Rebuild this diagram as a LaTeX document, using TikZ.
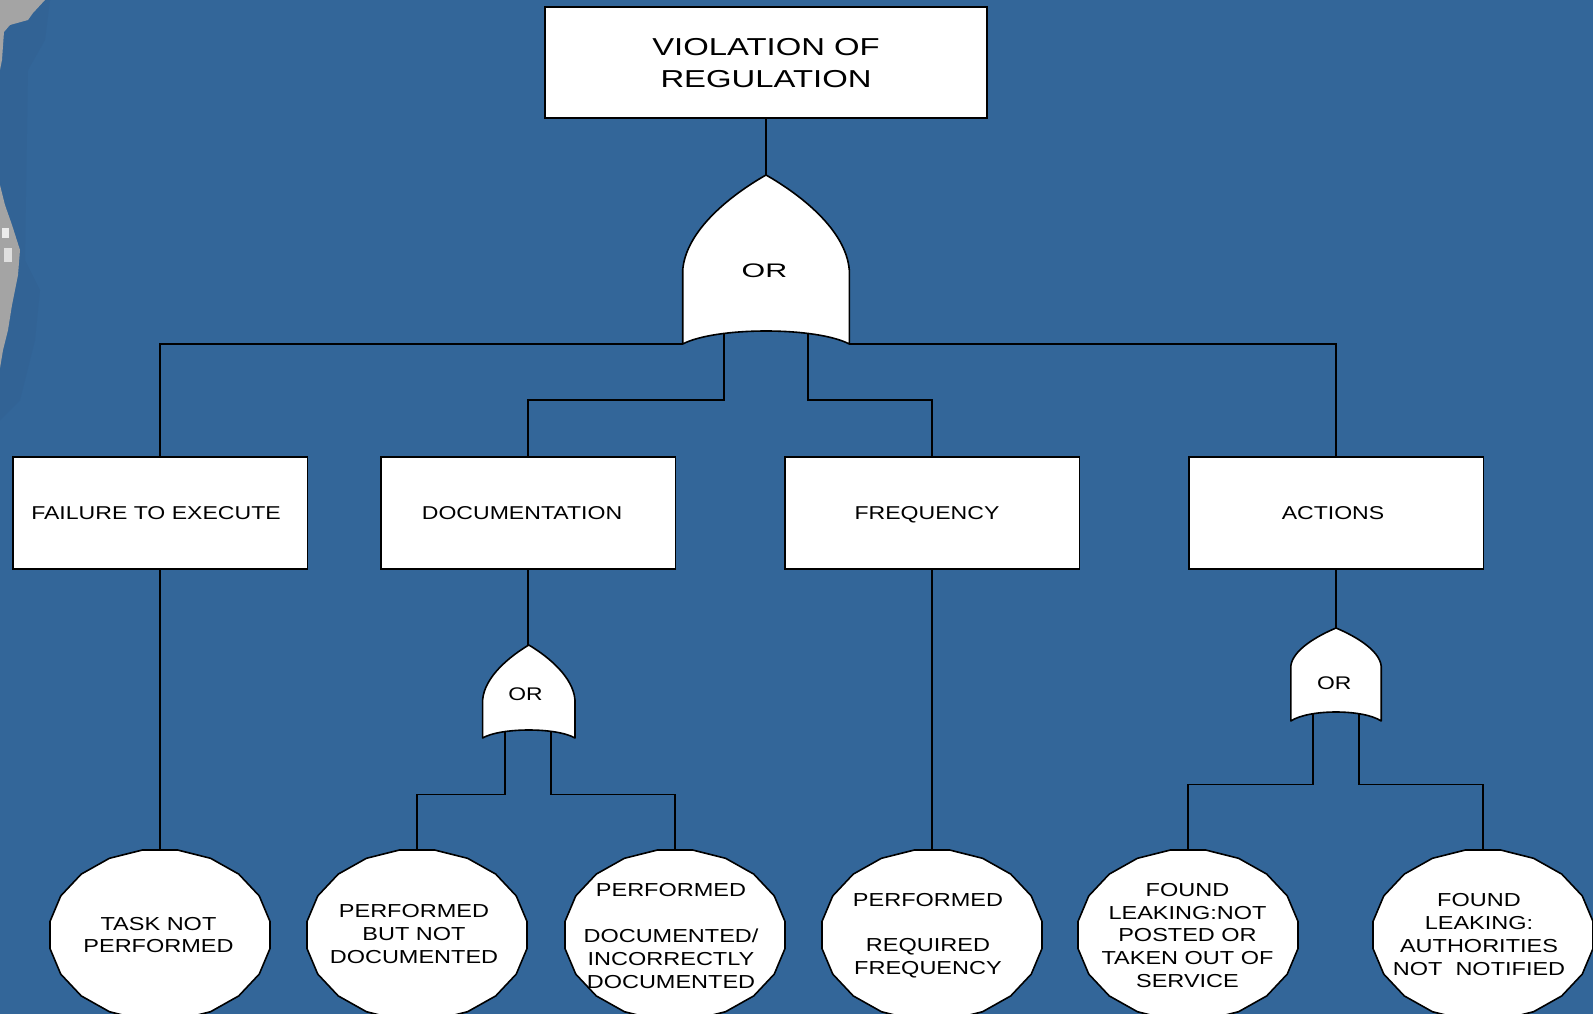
\documentclass[tikz,border=0pt]{standalone}
\usepackage{fontspec}
\setmainfont{Liberation Sans}
\newfontfamily\topfont[FakeStretch=1.34]{Liberation Sans}
\newfontfamily\boxfont[FakeStretch=1.24]{Liberation Sans}
\newfontfamily\leaffont[FakeStretch=1.25]{Liberation Sans}
\newfontfamily\bigorfont[FakeStretch=1.55]{Liberation Sans}
\usetikzlibrary{shapes.geometric}
\definecolor{bgblue}{RGB}{51,102,153}
\definecolor{bgdark}{RGB}{50,99,149}
\definecolor{edgegray}{RGB}{164,164,164}
% OR gate body: centre x, apex y, half width, shoulder depth, corner depth, bottom-centre depth
\newcommand\gateshape[6]{%
  \draw[gatebody] (#1,#2)
    .. controls ({#1-0.42*#3},{#2+0.21*#4}) and ({#1-0.96*#3},{#2+0.58*#4}) .. ({#1-#3},{#2+#4})
    -- ({#1-#3},{#2+#5})
    .. controls ({#1-0.6*#3},{#2+(#6-0.25*#5)/0.75}) and ({#1+0.6*#3},{#2+(#6-0.25*#5)/0.75}) .. ({#1+#3},{#2+#5})
    -- ({#1+#3},{#2+#4})
    .. controls ({#1+0.96*#3},{#2+0.58*#4}) and ({#1+0.42*#3},{#2+0.21*#4}) .. cycle;}
% faceted (20-gon) outline of a basic event round a centre
\newcommand\leafpoly[2]{%
  \draw[leafbody] plot[samples=21,domain=9:369,variable=\t]
    ({#1+111.4*cos(\t)},{#2+86.1*sin(\t)}) -- cycle;}
\begin{document}
\begin{tikzpicture}[x=1pt,y=-1pt,line width=1.6pt,
  box/.style={draw=black,fill=white,minimum width=294.6pt,minimum height=112pt,inner sep=0pt,
    text depth=0pt,font=\boxfont\fontsize{18.6}{22}\selectfont},
  leaf/.style={ellipse,minimum width=220pt,minimum height=170pt,inner sep=0pt},
  leafbody/.style={draw=black,fill=white,line join=round},
  lbl/.style={align=center,inner sep=0pt,font=\leaffont\fontsize{18.8}{22.8}\selectfont},
  gatebody/.style={draw=black,fill=white,line join=round},
  orlbl/.style={inner sep=0pt,font=\leaffont\fontsize{18.3}{20}\selectfont},
  wire/.style={draw=black,line width=1.6pt}]
\fill[bgblue] (0,0) rectangle (1593,1014);
\useasboundingbox (0,0) rectangle (1593,1014);
% screenshot artefacts at the left edge
\fill[bgdark] (0,0) -- (50,0) -- (45,40) -- (28,70) -- (25,260) -- (40,290) -- (35,340) -- (20,400) -- (0,420) -- cycle;
\fill[edgegray] (0,0) -- (45,0) -- (33,13) -- (28,20) -- (10,25) -- (4,32) -- (2,60) -- (0,70) -- cycle;
\fill[edgegray] (0,185) -- (5,205) -- (12,225) -- (20,250) -- (18,275) -- (12,305) -- (8,330) -- (3,350) -- (0,368) -- cycle;
\fill[white!85!gray] (2,228) rectangle (9,238);
\fill[white!75!gray] (4,248) rectangle (12,262);

% top event
\node[box,minimum width=442pt,minimum height=111pt,align=center,
  font=\topfont\fontsize{24.5}{32}\selectfont] (top) at (766,62.5) {VIOLATION OF\\REGULATION};
% intermediate events
\node[box] (b1) at (160,513) {FAILURE TO EXECUTE\hspace*{8pt}};
\node[box] (b2) at (528,513) {DOCUMENTATION\hspace*{12pt}};
\node[box] (b3) at (932,513) {FREQUENCY\hspace*{10pt}};
\node[box] (b4) at (1336,513) {ACTIONS\hspace*{6pt}};
% basic events (anchors; faceted outlines drawn below)
\node[leaf] (e1) at (160,935) {};
\node[leaf] (e2) at (417,935) {};
\node[leaf] (e3) at (675,935) {};
\node[leaf] (e4) at (932,935) {};
\node[leaf] (e5) at (1188,935) {};
\node[leaf] (e6) at (1483,935) {};

% gate anchor points
\coordinate (g1) at (766,175);
\coordinate (g1L) at (682.7,344);
\coordinate (g1R) at (849.3,344);
\coordinate (g1a) at (724,330);
\coordinate (g1b) at (808,330);
\coordinate (lev1) at (0,400);
\coordinate (g2) at (528,645);
\coordinate (g2a) at (505,725);
\coordinate (g2b) at (551,725);
\coordinate (lev2) at (0,794.5);
\coordinate (g3) at (1336,628);
\coordinate (g3a) at (1313,708);
\coordinate (g3b) at (1359,708);
\coordinate (lev3) at (0,784.5);

% connectors
\draw[wire] (top.south) -- (g1);
\draw[wire] (g1L) -| (b1.north);
\draw[wire] (g1R) -| (b4.north);
\draw[wire] (g1a) |- (lev1 -| b2.north) -- (b2.north);
\draw[wire] (g1b) |- (lev1 -| b3.north) -- (b3.north);
\draw[wire] (b1.south) -- (e1.north);
\draw[wire] (b2.south) -- (g2);
\draw[wire] (g2a) |- (lev2 -| e2.north) -- (e2.north);
\draw[wire] (g2b) |- (lev2 -| e3.north) -- (e3.north);
\draw[wire] (b3.south) -- (e4.north);
\draw[wire] (b4.south) -- (g3);
\draw[wire] (g3a) |- (lev3 -| e5.north) -- (e5.north);
\draw[wire] (g3b) |- (lev3 -| e6.north) -- (e6.north);

% basic event outlines and texts
\leafpoly{160}{935}
\leafpoly{417}{935}
\leafpoly{675}{935}
\leafpoly{932}{935}
\leafpoly{1188}{935}
\leafpoly{1483}{935}
\node[lbl] (t1) at (158.5,935) {TASK NOT\\PERFORMED};
\node[lbl] (t2) at (414,934) {PERFORMED\\BUT NOT\\DOCUMENTED};
\node[lbl] (t3) at (671,936) {PERFORMED\\[22.8pt]DOCUMENTED/\\INCORRECTLY\\DOCUMENTED};
\node[lbl] (t4) at (928,935.5) {PERFORMED\\[22.8pt]REQUIRED\\FREQUENCY};
\node[lbl] (t5) at (1187.5,935.5) {FOUND\\LEAKING:NOT\\POSTED OR\\TAKEN OUT OF\\SERVICE};
\node[lbl] (t6) at (1479,934.5) {FOUND\\LEAKING:\\AUTHORITIES\\NOT\ \ NOTIFIED};

% gates
\gateshape{766}{175}{83.3}{95}{169}{156}
\node[inner sep=0pt,font=\bigorfont\fontsize{19.6}{20}\selectfont] (or1) at (764.5,270.3) {OR};
\gateshape{528.8}{645}{46.2}{55}{93}{85}
\node[orlbl] (or2) at (525.5,694) {OR};
\gateshape{1336}{628}{45.2}{38}{93}{84}
\node[orlbl] (or3) at (1334.2,682.8) {OR};
\end{tikzpicture}
\end{document}
